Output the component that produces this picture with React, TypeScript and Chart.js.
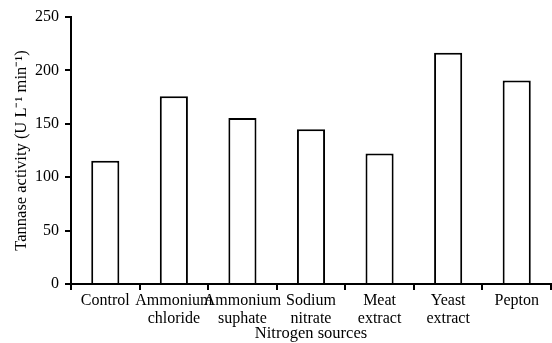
import React, { useEffect, useRef } from "react";
import { Chart, registerables } from "chart.js";

Chart.register(...registerables);

const categories: (string | string[])[] = [
  "Control",
  ["Ammonium", "chloride"],
  ["Ammonium", "suphate"],
  ["Sodium", "nitrate"],
  ["Meat", "extract"],
  ["Yeast", "extract"],
  "Pepton",
];
const activity = [115.5, 175.7, 155.4, 145, 122.3, 216.6, 190.5];
const yTicks = [0, 50, 100, 150, 200, 250];
const xTitle = "Nitrogen sources";
const yTitle = "Tannase activity (U L\u207B\u00B9 min\u207B\u00B9)";

const FONT = "'Liberation Serif', 'Times New Roman', serif";

export default function App() {
  const ref = useRef<HTMLCanvasElement>(null);
  useEffect(() => {
    if (!ref.current) return;
    const chart = new Chart(ref.current, {
      type: "bar",
      data: {
        labels: categories,
        datasets: [
          {
            data: activity,
            backgroundColor: "#ffffff",
            borderColor: "#000000",
            borderWidth: 2,
            categoryPercentage: 1,
            barPercentage: 0.41,
          },
        ],
      },
      options: {
        animation: false,
        responsive: false,
        maintainAspectRatio: false,
        layout: { padding: { top: 17, right: 1, left: 0, bottom: 0 } },
        plugins: { legend: { display: false }, tooltip: { enabled: false } },
        scales: {
          x: {
            type: "category",
            offset: true,
            grid: {
              offset: true,
              drawOnChartArea: false,
              drawTicks: true,
              tickLength: 6,
              color: "#000000",
              lineWidth: 2,
            },
            border: { display: true, color: "#000000", width: 2 },
            ticks: {
              color: "#000000",
              font: { family: FONT, size: 16, lineHeight: 1.13 },
              padding: 2,
              maxRotation: 0,
              autoSkip: false,
            },
            title: {
              display: true,
              text: xTitle,
              color: "#000000",
              font: { family: FONT, size: 16.5, lineHeight: 1.1 },
              padding: { top: 0, bottom: 0 },
            },
            afterFit: (s: any) => {
              s.height = 59;
            },
          },
          y: {
            min: 0,
            max: 250,
            afterBuildTicks: (s: any) => {
              s.ticks = yTicks.map((v) => ({ value: v }));
            },
            grid: {
              drawOnChartArea: false,
              drawTicks: true,
              tickLength: 6,
              color: "#000000",
              lineWidth: 2,
            },
            border: { display: true, color: "#000000", width: 2 },
            ticks: {
              color: "#000000",
              font: { family: FONT, size: 16 },
              padding: 6,
            },
            title: {
              display: true,
              text: yTitle,
              color: "#000000",
              font: { family: FONT, size: 16.5 },
              padding: { top: 12, bottom: 0 },
            },
            afterFit: (s: any) => {
              s.width = 71;
            },
          },
        },
      },
    });
    return () => chart.destroy();
  }, []);
  return (
    <div style={{ position: "fixed", left: 0, top: 0, width: 552, height: 343, background: "#fff" }}>
      <canvas ref={ref} width={552} height={343} style={{ width: 552, height: 343 }} />
    </div>
  );
}
